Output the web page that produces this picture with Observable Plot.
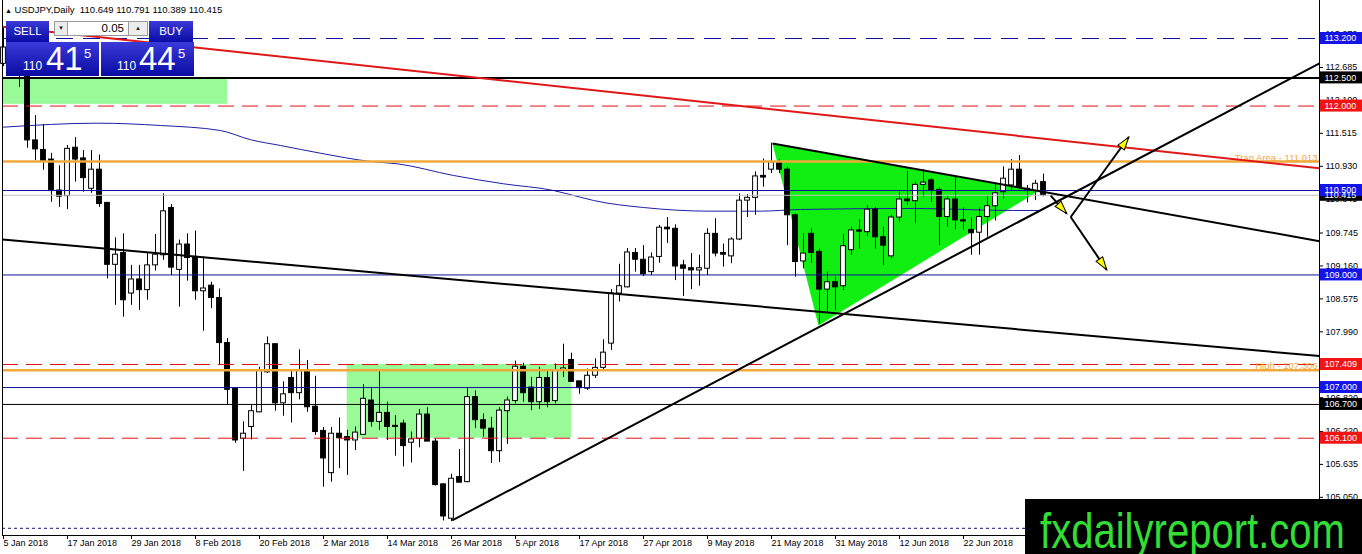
<!DOCTYPE html>
<html>
<head>
<meta charset="utf-8">
<script src="https://cdn.jsdelivr.net/npm/d3@7"></script>
<script src="https://cdn.jsdelivr.net/npm/@observablehq/plot@0.6"></script>
<style>
  body { margin: 0; background: #fff; }
  #chart { position: relative; width: 1362px; height: 554px; overflow: hidden; font-family: "Liberation Sans", Arial, sans-serif; }
  #chart svg { position: absolute; left: 0; top: 0; }
  .hdr { position: absolute; left: 5px; top: 4px; font-size: 9.5px; white-space: pre; color: #000; }
  .hdr span { font-size: 7px; }
  .blue { position: absolute; background: linear-gradient(#3a3ad8, #0a0aa4); color: #fff; }
  .btn { font-size: 11.5px; text-align: center; line-height: 21px; }
  .price span { position: absolute; line-height: 1; }
  .spin { position: absolute; top: 21px; height: 13px; background: #ececec; border: 1px solid #9a9a9a; font-size: 6px; text-align: center; line-height: 13px; color: #222; }
  .inp { position: absolute; left: 67px; top: 21px; width: 56px; height: 13px; background: #fff; border: 1px solid #9a9a9a; font-size: 11.5px; text-align: right; padding-right: 4px; line-height: 13px; }
  .mark { position: absolute; left: 1025px; top: 499px; width: 337px; height: 55px; background: #000; }
</style>
</head>
<body>
<div id="chart"></div>
<script>
// eje x: un índice por vela, etiquetas cada 8 velas
const xTickIdx = [0, 8, 16, 24, 32, 40, 48, 56, 64, 72, 80, 88, 96, 104, 112, 120]
const xTickLabels = ['5 Jan 2018', '17 Jan 2018', '29 Jan 2018', '8 Feb 2018', '20 Feb 2018', '2 Mar 2018',
  '14 Mar 2018', '26 Mar 2018', '5 Apr 2018', '17 Apr 2018', '27 Apr 2018', '9 May 2018',
  '21 May 2018', '31 May 2018', '12 Jun 2018', '22 Jun 2018']
const yTicks = [113.270, 112.685, 112.100, 111.515, 110.930, 110.345, 109.745, 109.160,
  108.575, 107.990, 107.405, 106.820, 106.220, 105.635, 105.050]

// USDJPY diario
const open = [112.75, 113.04, 113.10, 112.62, 111.39, 111.22, 111.05, 110.50, 110.40, 111.26,
  111.07, 110.53, 110.87, 110.28, 109.18, 109.39, 108.67, 108.92, 108.73, 109.17,
  109.35, 110.19, 109.09, 109.54, 109.32, 108.71, 108.81, 108.59, 107.79, 106.98,
  106.09, 106.30, 106.56, 107.27, 107.77, 106.72, 107.17, 106.90, 107.30, 106.66,
  106.23, 105.48, 106.18, 106.12, 106.06, 106.16, 106.77, 106.39, 106.55, 106.32,
  106.36, 106.02, 106.09, 106.52, 106.04, 105.28, 104.67, 105.41, 105.32, 106.83,
  106.42, 106.27, 105.87, 106.58, 106.76, 107.37, 107.00, 106.74, 107.17, 106.76,
  107.30, 107.49, 107.11, 106.98, 107.21, 107.35, 107.78, 108.67, 108.78, 109.39,
  109.27, 109.05, 109.32, 109.84, 109.82, 109.17, 109.12, 109.08, 109.11, 109.73,
  109.39, 109.33, 109.63, 110.32, 110.37, 110.76, 110.87, 111.00, 110.87, 110.06,
  109.24, 109.73, 109.41, 108.74, 108.87, 108.80, 109.44, 109.79, 109.76, 110.16,
  109.67, 109.33, 110.02, 110.34, 110.31, 110.60, 110.68, 110.51, 110.03, 110.34,
  109.97, 109.80, 109.75, 110.03, 110.22, 110.47, 110.59, 110.87, 110.53, 110.49,
  110.649]
const high = [113.38, 113.30, 113.20, 112.75, 111.83, 111.67, 111.16, 110.94, 111.30, 111.44,
  111.21, 111.21, 111.13, 110.29, 109.66, 109.73, 109.17, 109.17, 109.40, 109.72,
  110.44, 110.25, 109.62, 109.73, 109.78, 109.32, 108.87, 108.75, 107.87, 107.00,
  106.39, 106.68, 107.36, 107.90, 107.77, 107.10, 107.32, 107.67, 107.48, 107.20,
  106.29, 106.29, 106.46, 106.24, 106.30, 107.05, 106.98, 107.30, 106.74, 106.50,
  106.42, 106.21, 106.61, 106.64, 106.09, 105.29, 105.46, 105.90, 106.99, 106.94,
  106.53, 106.47, 106.64, 106.83, 107.47, 107.43, 107.18, 107.36, 107.30, 107.42,
  107.77, 107.61, 107.11, 107.33, 107.51, 107.85, 108.74, 109.19, 109.47, 109.47,
  109.52, 109.39, 109.88, 110.02, 109.89, 109.26, 109.38, 109.35, 109.82, 110.00,
  109.55, 109.66, 110.44, 110.43, 110.83, 111.06, 111.34, 111.05, 110.91, 110.09,
  109.73, 109.82, 109.46, 109.05, 108.96, 109.72, 109.85, 109.98, 110.23, 110.20,
  109.85, 110.06, 110.47, 110.84, 110.65, 110.87, 110.71, 110.55, 110.39, 110.75,
  110.19, 110.02, 110.19, 110.39, 110.62, 110.92, 111.05, 111.12, 110.59, 110.68,
  110.791]
const low = [112.70, 112.90, 112.33, 111.25, 111.03, 110.86, 110.29, 110.20, 110.16, 110.65,
  110.47, 110.45, 110.20, 108.93, 108.46, 108.25, 108.46, 108.37, 108.55, 109.07,
  109.26, 108.99, 108.43, 108.89, 108.55, 108.00, 108.40, 107.39, 106.70, 106.01,
  105.51, 106.07, 106.55, 107.25, 106.58, 106.49, 106.37, 106.78, 106.56, 106.15,
  105.23, 105.32, 105.56, 105.44, 105.88, 106.15, 106.30, 106.24, 106.06, 105.78,
  105.59, 105.66, 105.93, 106.04, 105.25, 104.63, 104.62, 105.31, 105.31, 106.27,
  106.12, 105.65, 105.67, 105.99, 106.71, 106.74, 106.59, 106.61, 106.64, 106.71,
  107.18, 107.10, 106.88, 106.95, 107.16, 107.32, 107.66, 108.52, 108.77, 109.05,
  108.97, 108.99, 109.21, 109.56, 108.90, 108.62, 108.74, 108.80, 108.99, 109.32,
  109.14, 109.20, 109.61, 110.02, 110.06, 110.56, 110.80, 110.80, 109.52, 108.96,
  109.11, 109.21, 108.13, 108.34, 108.37, 108.72, 109.35, 109.46, 109.68, 109.46,
  109.17, 109.29, 109.94, 110.23, 109.91, 110.38, 110.29, 109.52, 109.85, 109.80,
  109.79, 109.35, 109.35, 109.67, 109.96, 110.35, 110.50, 110.53, 110.28, 110.32,
  110.389]
const close = [113.04, 113.10, 112.65, 111.39, 111.23, 111.02, 110.49, 110.39, 111.24, 111.05,
  110.72, 110.87, 110.26, 109.18, 109.36, 108.55, 108.92, 108.73, 109.17, 109.36,
  110.13, 109.13, 109.54, 109.30, 108.71, 108.76, 108.59, 107.79, 106.96, 106.06,
  106.18, 106.58, 107.30, 107.77, 106.72, 106.88, 106.90, 107.30, 106.65, 106.21,
  105.74, 106.18, 106.10, 106.06, 106.20, 106.80, 106.39, 106.55, 106.30, 106.30,
  105.96, 106.08, 106.52, 106.04, 105.27, 104.71, 105.38, 105.31, 106.83, 106.42,
  106.27, 105.87, 106.59, 106.77, 107.37, 106.90, 106.74, 107.17, 106.74, 107.30,
  107.34, 107.10, 106.99, 107.21, 107.35, 107.62, 108.67, 108.80, 109.40, 109.27,
  109.01, 109.31, 109.84, 109.81, 109.15, 109.11, 109.08, 109.12, 109.73, 109.38,
  109.36, 109.63, 110.32, 110.37, 110.75, 110.73, 111.00, 110.87, 110.06, 109.23,
  109.38, 109.39, 108.74, 108.87, 108.78, 109.51, 109.79, 109.77, 110.16, 109.67,
  109.52, 110.02, 110.34, 110.31, 110.60, 110.64, 110.50, 110.03, 110.34, 109.97,
  109.95, 109.74, 110.03, 110.22, 110.45, 110.71, 110.87, 110.56, 110.49, 110.62,
  110.415]

// media móvil
const maIdx = [0, 11.75, 19.6, 27.1, 30.9, 34.6, 39.6, 45.9, 49.25, 56.25, 62.5, 68.75,
  72.1, 73.75, 80, 88.4, 94.6, 99.6, 113.75, 126.25, 129.6]
const maVal = [111.625, 111.696, 111.655, 111.566, 111.401, 111.30, 111.163, 111.015, 110.974,
  110.767, 110.619, 110.50, 110.381, 110.323, 110.198, 110.133, 110.133, 110.163, 110.181,
  110.145, 110.145]

// niveles horizontales
const navyDashed = [113.2]
const blackThick = [112.5]
const redDashed = [112.0, 107.409, 106.1]
const orangeLevels = [111.013, 107.306]
const orangeNotes = ['Trap Area - 111.013', 'High - 107.306']
const navySolid = [110.5, 109.0, 107.0]
const bidLevel = [110.415]
const blackThin = [106.7]
const dottedLevel = [104.5]

// líneas de tendencia: [índice inicio, precio inicio, índice fin, precio fin]
const redTrend = [-0.125, 113.41, 164.5, 110.895]
const upperFall = [96.125, 111.335, 164.5, 109.60]
const longFall = [-0.125, 109.63, 164.5, 107.56]
const riseTrend = [56.09, 104.64, 164.5, 112.76]

// triángulo verde y zonas
const triIdx = [96.125, 101.875, 129.25]
const triVal = [111.335, 108.10, 110.48]
const zoneX1 = [-0.125, 42.96]
const zoneX2 = [28, 71]
const zoneLo = [112.03, 106.10]
const zoneHi = [112.50, 107.409]

// flechas
const arrX1 = [130.9, 133.4, 133.4]
const arrY1 = [110.41, 110.03, 110.03]
const arrX2 = [132.9, 140.66, 137.9]
const arrY2 = [110.09, 111.45, 109.09]

const W = 1362, H = 554, mL = 2, mR = 43, mT = 0, mB = 19
const xDom = [-0.125, 164.5]
const yDom = [104.372, 113.875]
const kx = (W - mL - mR) / (xDom[1] - xDom[0])
const ky = (H - mT - mB) / (yDom[1] - yDom[0])
const px = n => n / kx
const py = n => n / ky

const candles = open.map((o, i) => ({ i, open: o, high: high[i], low: low[i], close: close[i] }))
const ma = maIdx.map((x, k) => ({ x, y: maVal[k] }))
const tri = triIdx.map((x, k) => ({ x, y: triVal[k] }))
const zones = zoneX1.map((x, k) => ({ x1: x, x2: zoneX2[k], y1: zoneLo[k], y2: zoneHi[k] }))
const seg = a => ({ x1: a[0], y1: a[1], x2: a[2], y2: a[3] })
const blackTrends = [upperFall, longFall, riseTrend].map(seg)
const arrows = arrX1.map((x, k) => ({
  x1: x, y1: arrY1[k], x2: arrX2[k], y2: arrY2[k],
  angle: Math.atan2(kx * (arrX2[k] - x), ky * (arrY2[k] - arrY1[k])) * 180 / Math.PI,
}))
const notes = orangeLevels.map((v, k) => ({ v, t: orangeNotes[k] }))

const BLUE = '#1414e6', RED = '#f01414', BLACK = '#000'
const boxes = [
  ...navyDashed.map(v => ({ v, c: BLUE })),
  ...blackThick.map(v => ({ v, c: BLACK })),
  { v: redDashed[0], c: RED },
  ...bidLevel.map(v => ({ v, c: BLACK })),
  ...navySolid.map(v => ({ v, c: BLUE })),
  ...redDashed.slice(1).map(v => ({ v, c: RED })),
  ...blackThin.map(v => ({ v, c: BLACK })),
].sort((a, b) => b.v - a.v)
// la caja del bid queda debajo de la de 110.500
boxes.sort((a, b) => (a.v === bidLevel[0] ? -1 : 0) - (b.v === bidLevel[0] ? -1 : 0))

const headSymbol = {
  draw(ctx, size) {
    const r = Math.sqrt(size / Math.PI)
    ctx.moveTo(0, 0)
    ctx.lineTo(r * 0.8, r * 2.6)
    ctx.lineTo(-r * 0.8, r * 2.6)
    ctx.closePath()
  },
}

const tickName = new Map(xTickIdx.map((d, k) => [d, xTickLabels[k]]))

const chart = Plot.plot({
  width: W,
  height: H,
  marginLeft: mL,
  marginRight: mR,
  marginTop: mT,
  marginBottom: mB,
  x: { domain: xDom, axis: null },
  y: { domain: yDom, axis: null },
  color: { type: 'identity' },
  style: { background: 'white', fontFamily: '"Liberation Sans", Arial, sans-serif', fontSize: '9px', color: 'black' },
  marks: [
    Plot.rect(zones, { x1: 'x1', x2: 'x2', y1: 'y1', y2: 'y2', fill: '#98fb98' }),
    Plot.line(tri, { x: 'x', y: 'y', fill: '#11ee11', stroke: 'none', curve: 'linear-closed' }),
    Plot.line(ma, { x: 'x', y: 'y', stroke: '#1e1ea8', strokeWidth: 1, curve: 'monotone-x' }),
    // velas
    Plot.ruleX(candles, { x: 'i', y1: 'low', y2: 'high', stroke: 'black', strokeWidth: 1 }),
    Plot.rect(candles, {
      x1: d => d.i - 0.3, x2: d => d.i + 0.3, y1: 'open', y2: 'close',
      fill: d => (d.close >= d.open ? 'white' : 'black'), stroke: 'black', strokeWidth: 1,
    }),
    // niveles
    Plot.ruleY(navyDashed, { stroke: '#10109a', strokeDasharray: '17,10' }),
    Plot.ruleY(blackThick, { stroke: 'black', strokeWidth: 2 }),
    Plot.ruleY(redDashed, { stroke: '#e01010', strokeDasharray: '16,8' }),
    Plot.ruleY(orangeLevels, { stroke: '#f2a93b', strokeWidth: 2.5 }),
    Plot.ruleY(navySolid, { stroke: '#10109a' }),
    Plot.ruleY(bidLevel, { stroke: '#c0c0c0' }),
    Plot.ruleY(blackThin, { stroke: 'black' }),
    Plot.ruleY(dottedLevel, { stroke: '#10107a', strokeDasharray: '3,3' }),
    Plot.text(notes, {
      x: () => xDom[1] - px(2), y: 'v', text: 't', textAnchor: 'end', dy: -4,
      fill: '#f2a93b', fontSize: 9.5,
    }),
    // tendencias
    Plot.link([seg(redTrend)], { x1: 'x1', y1: 'y1', x2: 'x2', y2: 'y2', stroke: '#e01818', strokeWidth: 2 }),
    Plot.link(blackTrends, { x1: 'x1', y1: 'y1', x2: 'x2', y2: 'y2', stroke: 'black', strokeWidth: 2 }),
    // flechas
    Plot.link(arrows, { x1: 'x1', y1: 'y1', x2: 'x2', y2: 'y2', stroke: 'black', strokeWidth: 2 }),
    Plot.dot(arrows, {
      x: 'x2', y: 'y2', r: 5, symbol: headSymbol, rotate: 'angle',
      fill: '#ffff00', stroke: 'black', strokeWidth: 1,
    }),
    // marco y ejes
    Plot.ruleX([xDom[0], xDom[1]], { stroke: 'black' }),
    Plot.ruleY([yDom[0]], { stroke: 'black' }),
    Plot.axisX({
      ticks: xTickIdx, tickFormat: d => tickName.get(d), textAnchor: 'start',
      tickSize: 4, tickPadding: 0, label: null, fontSize: 9,
    }),
    Plot.axisY({
      anchor: 'right', ticks: yTicks, tickFormat: d => d.toFixed(3),
      tickSize: 3, tickPadding: 3, label: null, fontSize: 9,
    }),
    Plot.rect(boxes, {
      x1: () => xDom[1] + px(1), x2: () => xDom[1] + px(44),
      y1: d => d.v - py(6), y2: d => d.v + py(6), fill: 'c',
    }),
    Plot.text(boxes, {
      x: () => xDom[1] + px(5), y: 'v', text: d => d.v.toFixed(3),
      fill: 'white', textAnchor: 'start', fontSize: 9,
    }),
  ],
})

const root = d3.select('#chart')
root.append(() => chart)

// panel de órdenes y cabecera
root.append('div').attr('class', 'hdr').html('<span>&#9650;</span> USDJPY,Daily  110.649 110.791 110.389 110.415')
root.append('div').attr('class', 'blue btn').style('left', '6px').style('top', '21px')
  .style('width', '43px').style('height', '21px').text('SELL')
root.append('div').attr('class', 'blue btn').style('left', '149px').style('top', '21px')
  .style('width', '44px').style('height', '21px').text('BUY')
root.append('div').attr('class', 'spin').style('left', '54px').style('width', '12px').html('&#9660;')
root.append('div').attr('class', 'inp').text('0.05')
root.append('div').attr('class', 'spin').style('left', '128px').style('width', '18px').html('&#9650;')

const quote = (left, big, offs) => {
  const box = root.append('div').attr('class', 'blue price')
    .style('left', left + 'px').style('top', '42px').style('width', '93px').style('height', '34px')
  box.append('span').style('left', offs[0] + 'px').style('top', '18px').style('font-size', '12px').text('110')
  box.append('span').style('left', offs[1] + 'px').style('top', '0px').style('font-size', '33px').text(big)
  box.append('span').style('left', offs[2] + 'px').style('top', '5px').style('font-size', '13px').text('5')
}
quote(6, '41', [17, 40, 78])
quote(101, '44', [16, 38, 77])

// marca de agua
const mark = root.append('div').attr('class', 'mark')
mark.append('svg').attr('width', 337).attr('height', 55)
  .append('text').attr('x', 15).attr('y', 49).attr('fill', '#33dd33')
  .attr('font-family', '"Liberation Sans Narrow", "Liberation Sans", Arial, sans-serif')
  .attr('font-size', 50).attr('textLength', 305).attr('lengthAdjust', 'spacingAndGlyphs')
  .text('fxdailyreport.com')
</script>
</body>
</html>
